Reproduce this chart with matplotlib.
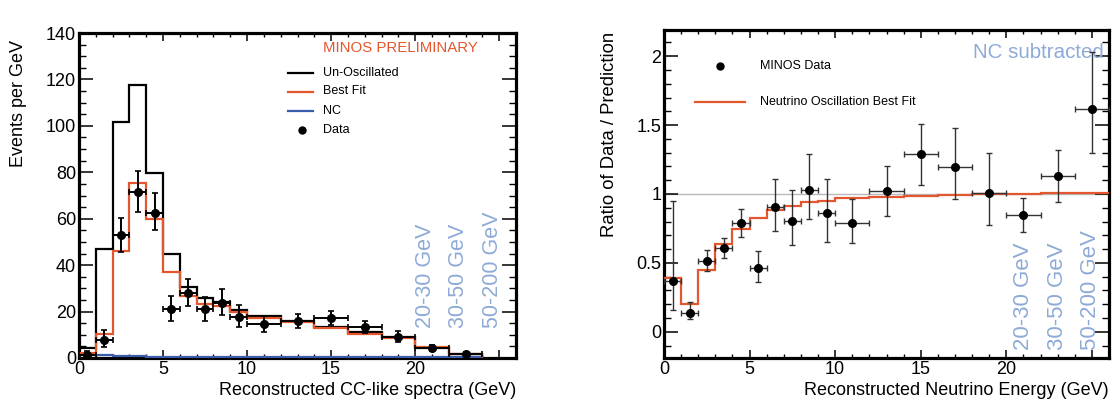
import matplotlib
matplotlib.use("Agg")
import matplotlib.pyplot as plt
from matplotlib.ticker import MultipleLocator, FuncFormatter
from matplotlib.lines import Line2D

plt.rcParams['font.family'] = ['Liberation Sans', 'DejaVu Sans']

# ---------------- data: left panel ----------------
edges_L = [0, 1, 2, 3, 4, 5, 6, 7, 8, 9, 10, 12, 14, 16, 18, 20, 22, 24]
unosc = [4.3, 47, 101.7, 117.8, 79.6, 44.9, 30.6, 25.8, 24.1, 20.6,
         18.0, 15.9, 13.3, 11.2, 9.0, 4.3, 1.6]
bestfit = [2.2, 10.4, 46.2, 75.3, 59.7, 37.0, 26.9, 23.3, 22.3, 19.7,
           17.3, 15.3, 12.8, 10.5, 8.6, 4.8, 1.6]
nc = [1.5, 1.2, 0.9, 0.7, 0.6, 0.5, 0.5, 0.5, 0.5, 0.5,
      0.5, 0.5, 0.5, 0.5, 0.5, 0.4, 0.3]
data_x = [0.5, 1.5, 2.5, 3.5, 4.5, 5.5, 6.5, 7.5, 8.5, 9.5,
          11, 13, 15, 17, 19, 21, 23]
data_xerr = [0.5] * 10 + [1] * 7
data_y = [1.4, 7.6, 52.8, 71.7, 62.6, 20.9, 27.8, 20.9, 23.7, 17.6,
          14.5, 16.1, 17.3, 13.2, 9.1, 4.3, 1.7]
data_ylo = [1.4, 3.0, 7.0, 8.7, 7.6, 5.1, 5.5, 5.1, 5.3, 4.2,
            3.3, 3.2, 3.2, 2.4, 2.2, 1.3, 0.8]
data_yhi = [1.5, 4.3, 7.6, 8.9, 8.3, 5.7, 6.3, 5.4, 6.1, 5.4,
            3.5, 3.0, 2.8, 2.9, 2.4, 1.4, 0.9]

# ---------------- data: right panel ----------------
edges_R = [0, 1, 2, 3, 4, 5, 6, 7, 8, 9, 10, 12, 14, 16, 18, 20, 22, 26]
ratio_fit = [0.39, 0.20, 0.45, 0.64, 0.744, 0.824, 0.883, 0.915, 0.939, 0.95,
             0.968, 0.98, 0.988, 0.995, 1.0, 1.0, 1.01]
r_x = [0.5, 1.5, 2.5, 3.5, 4.5, 5.5, 6.5, 7.5, 8.5, 9.5,
       11, 13, 15, 17, 19, 21, 23, 25]
r_xerr = [0.5] * 10 + [1] * 8
r_y = [0.366, 0.14, 0.517, 0.607, 0.788, 0.461, 0.907, 0.807, 1.032, 0.859,
       0.79, 1.02, 1.29, 1.198, 1.01, 0.851, 1.129, 1.62]
r_ylo = [0.206, 0.05, 0.077, 0.073, 0.098, 0.10, 0.173, 0.175, 0.215, 0.208,
         0.146, 0.183, 0.222, 0.235, 0.234, 0.124, 0.188, 0.325]
r_yhi = [0.584, 0.075, 0.076, 0.076, 0.10, 0.124, 0.203, 0.223, 0.258, 0.251,
         0.173, 0.18, 0.22, 0.282, 0.29, 0.122, 0.188, 0.41]

energy_labels = ["20-30 GeV", "30-50 GeV", "50-200 GeV"]

RED = '#e4572e'
BLUE = '#3b5bab'
LBLUE = '#8eaad6'

fig = plt.figure(figsize=(11.18, 4.04), dpi=100)
W, H = 1118, 404

def make_ax(x0, x1, ytop, ybot):
    return fig.add_axes([x0 / W, 1 - ybot / H, (x1 - x0) / W, (ybot - ytop) / H])

axL = make_ax(79, 516, 33, 358)
axR = make_ax(664, 1109, 30, 358)

def style(ax, ymaj, ymin):
    for s in ax.spines.values():
        s.set_linewidth(2.3)
    ax.xaxis.set_major_locator(MultipleLocator(5))
    ax.xaxis.set_minor_locator(MultipleLocator(1))
    ax.yaxis.set_major_locator(MultipleLocator(ymaj))
    ax.yaxis.set_minor_locator(MultipleLocator(ymin))
    ax.tick_params(which='both', direction='in', top=True, right=True,
                   labelsize=13, colors='black')
    ax.tick_params(axis='x', which='major', length=6, width=1.1, pad=2)
    ax.tick_params(axis='x', which='minor', length=3, width=1.0)
    ax.tick_params(axis='y', which='major', length=10, width=1.1, pad=2)
    ax.tick_params(axis='y', which='minor', length=5, width=1.0)
    ax.xaxis.set_major_formatter(FuncFormatter(lambda v, p: '%g' % v if v <= 20 else ''))
    ax.yaxis.set_major_formatter(FuncFormatter(lambda v, p: '%g' % v))

# ---------------- left panel ----------------
axL.set_xlim(0, 26)
axL.set_ylim(0, 140)
style(axL, 20, 5)
axL.stairs(unosc, edges_L, baseline=0, color='black', lw=1.6, zorder=3)
axL.stairs(bestfit, edges_L, baseline=0, color=RED, lw=1.6, zorder=4)
axL.stairs(nc, edges_L, baseline=None, color=BLUE, lw=1.6, zorder=5)
axL.errorbar(data_x, data_y, xerr=data_xerr, yerr=[data_ylo, data_yhi],
             fmt='o', color='black', ms=5.5, elinewidth=1.4, capsize=2,
             capthick=1.2, zorder=6)
axL.set_xlabel('Reconstructed CC-like spectra (GeV)', fontsize=13, ha='right', x=1.0, labelpad=3)
axL.set_ylabel('Events per GeV', fontsize=13, ha='right', y=0.978, labelpad=14)

axL.text(0.558, 0.955, 'MINOS PRELIMINARY', transform=axL.transAxes,
         color=RED, fontsize=10.8, va='center', ha='left')
leg_items = [('Un-Oscillated', 'black', 'line'), ('Best Fit', RED, 'line'),
             ('NC', BLUE, 'line'), ('Data', 'black', 'dot')]
ys = [72.5, 91.5, 111, 130]
for (lab, col, kind), yp in zip(leg_items, ys):
    yf = 1 - yp / H
    if kind == 'line':
        fig.add_artist(Line2D([288 / W, 313 / W], [yf, yf], color=col, lw=1.6))
    else:
        fig.add_artist(Line2D([301.5 / W], [yf], marker='o', color=col, ms=5))
    fig.text(323 / W, yf, lab, fontsize=9, va='center', ha='left')

for xc, lab in zip([20.6, 22.6, 24.6], energy_labels):
    axL.text(xc, 12.9, lab, rotation=90, ha='center', va='bottom',
             fontsize=15.5, color=LBLUE, zorder=2)

# ---------------- right panel ----------------
axR.set_xlim(0, 26)
axR.set_ylim(-0.19, 2.19)
style(axR, 0.5, 0.1)
axR.axhline(1.0, color='#b8b8b8', lw=1.0, zorder=1)
axR.stairs(ratio_fit, edges_R, baseline=None, color=RED, lw=1.6, zorder=4)
axR.errorbar(r_x, r_y, xerr=r_xerr, yerr=[r_ylo, r_yhi],
             fmt='o', color='black', ecolor='#333333', ms=5.5, elinewidth=1.0,
             capsize=2, capthick=1.0, zorder=6, clip_on=True)
axR.set_xlabel('Reconstructed Neutrino Energy (GeV)', fontsize=13, ha='right', x=1.0, labelpad=3)
axR.set_ylabel('Ratio of Data / Prediction', fontsize=13.3, ha='right', y=0.995, labelpad=13)

axR.text(25.7, 2.03, 'NC subtracted', ha='right', va='center', fontsize=14.8,
         color=LBLUE, zorder=2)
yf = 1 - 66 / H
fig.add_artist(Line2D([720 / W], [yf], marker='o', color='black', ms=5))
fig.text(760 / W, yf, 'MINOS Data', fontsize=9, va='center', ha='left')
yf = 1 - 102 / H
fig.add_artist(Line2D([695 / W, 745 / W], [yf, yf], color=RED, lw=1.6))
fig.text(760 / W, yf, 'Neutrino Oscillation Best Fit', fontsize=9, va='center', ha='left')

for xc, lab in zip([21.0, 23.0, 24.9], energy_labels):
    axR.text(xc, -0.13, lab, rotation=90, ha='center', va='bottom',
             fontsize=16, color=LBLUE, zorder=2)

fig.savefig('out.png', dpi=100)
